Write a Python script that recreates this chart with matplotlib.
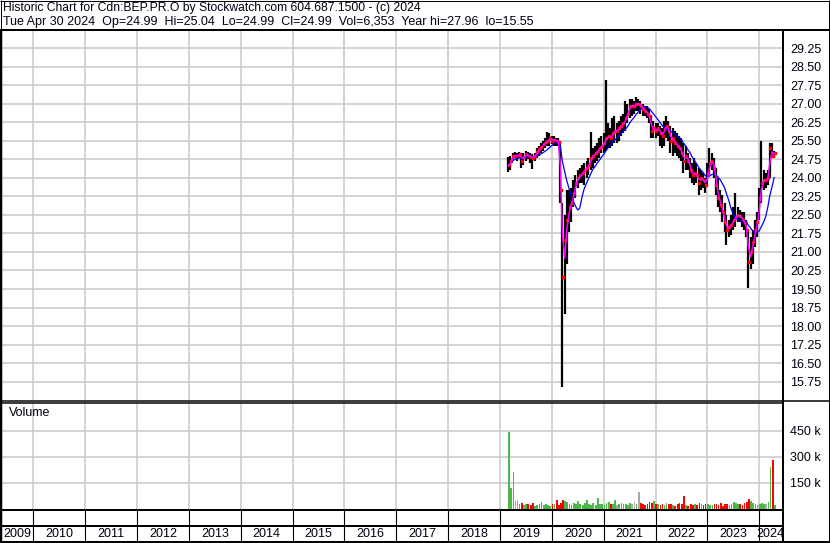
import numpy as np
import pandas as pd
import matplotlib
matplotlib.use('Agg')
import matplotlib.pyplot as plt
from matplotlib.lines import Line2D

plt.rcParams['font.family'] = ['Liberation Sans', 'DejaVu Sans']

W, H = 830, 543

# semi-monthly bars, Mar 2019 - Apr 2024
dates = pd.date_range('2019-03-01', '2024-04-30', freq='SMS')

high = [24.85, 24.9, 25.0, 25.05, 25.0, 25.05, 25.0, 25.0, 25.1, 25.05,
        25.0, 24.95, 25.0, 25.2, 25.3, 25.4, 25.5, 25.6, 25.85, 25.8,
        25.7, 25.7, 25.6, 25.6, 25.5, 23.0, 22.5, 23.5, 23.5, 23.6,
        23.9, 24.1, 24.3, 24.4, 24.5, 24.6, 24.7, 24.8, 25.85, 25.2,
        25.3, 25.4, 25.6, 25.7, 25.8, 27.96, 26.2, 26.0, 26.4, 26.5,
        26.2, 26.3, 26.5, 26.6, 27.1, 27.0, 27.2, 27.2, 27.1, 27.25,
        27.2, 27.1, 27.0, 26.9, 26.9, 26.8, 26.5, 26.3, 26.2, 26.2,
        26.1, 26.0, 26.3, 26.5, 26.3, 26.1, 26.0, 25.9, 25.8, 25.7,
        25.6, 25.4, 25.3, 25.0, 24.8, 24.6, 24.8, 24.6, 24.4, 24.3,
        24.2, 24.0, 24.6, 25.2, 25.0, 24.8, 24.4, 24.0, 23.5, 23.3,
        23.0, 22.5, 22.3, 22.5, 22.8, 23.4, 22.8, 22.7, 22.6, 22.6,
        22.3, 21.9, 21.6, 21.9, 22.3, 22.6, 23.6, 25.5, 24.3, 24.2,
        24.3, 25.4, 25.4, 25.1]
low = [24.25, 24.3, 24.7, 24.8, 24.7, 24.8, 24.4, 24.5, 24.7, 24.75,
       24.6, 24.35, 24.7, 24.8, 24.9, 25.0, 25.1, 25.2, 25.3, 25.3,
       25.35, 25.3, 25.3, 25.3, 23.0, 15.55, 18.5, 20.5, 21.8, 22.2,
       22.8, 23.2, 23.6, 23.8, 23.8, 23.7, 24.0, 24.1, 24.3, 24.4,
       24.6, 24.7, 24.8, 25.0, 25.0, 25.1, 25.2, 25.2, 25.3, 25.4,
       25.4, 25.5, 25.7, 25.8, 25.9, 26.2, 26.4, 26.5, 26.6, 26.7,
       26.7, 26.6, 26.5, 26.5, 26.4, 26.2, 25.6, 25.6, 25.6, 25.7,
       25.3, 25.2, 25.3, 25.6, 25.5, 25.0, 24.9, 25.0, 24.9, 24.8,
       24.7, 24.2, 24.3, 24.3, 24.0, 23.8, 23.7, 23.8, 23.3, 23.5,
       23.6, 23.4, 23.7, 24.1, 24.3, 24.0, 23.3, 22.8, 22.6, 22.2,
       21.8, 21.3, 21.6, 21.7, 21.9, 22.0, 22.2, 22.2, 22.0, 21.9,
       21.6, 19.55, 20.3, 20.5, 21.2, 21.6, 22.3, 23.0, 23.5, 23.6,
       23.7, 24.0, 24.8, 24.8]
close = [24.5, 24.7, 24.9, 24.9, 24.9, 24.95, 24.7, 24.85, 24.95, 24.9,
         24.85, 24.8, 24.9, 25.05, 25.15, 25.25, 25.35, 25.45, 25.5, 25.6,
         25.5, 25.55, 25.5, 25.45, 23.5, 20.0, 21.5, 22.3, 22.8, 23.0,
         23.4, 23.8, 24.0, 24.1, 24.2, 24.3, 24.4, 24.5, 24.8, 24.9,
         25.0, 25.1, 25.2, 25.3, 25.4, 25.6, 25.7, 25.6, 25.8, 25.9,
         25.9, 26.0, 26.1, 26.2, 26.4, 26.6, 26.9, 26.9, 26.9, 27.0,
         27.0, 26.9, 26.8, 26.7, 26.6, 26.5, 25.9, 26.0, 25.9, 26.0,
         25.8, 25.7, 26.0, 26.1, 25.9, 25.5, 25.6, 25.4, 25.3, 25.2,
         25.0, 24.7, 24.9, 24.7, 24.3, 24.1, 24.2, 24.1, 23.8, 24.0,
         23.9, 23.7, 24.2, 24.6, 24.7, 24.4, 23.7, 23.2, 22.9, 22.6,
         22.2, 21.9, 22.0, 22.1, 22.3, 22.4, 22.5, 22.45, 22.3, 22.2,
         21.9, 20.6, 21.0, 21.4, 21.9, 22.2, 23.2, 23.8, 23.9, 23.9,
         24.0, 25.2, 24.9, 25.0]
volume_k = [446, 120, 215, 45, 52, 30, 35, 25, 30, 28,
            22, 35, 20, 25, 30, 38, 22, 30, 25, 20,
            30, 28, 52, 25, 35, 52, 48, 40, 30, 25,
            35, 28, 46, 30, 25, 35, 52, 30, 25, 35,
            22, 65, 28, 30, 25, 35, 40, 28, 30, 52,
            25, 30, 35, 28, 30, 25, 35, 28, 40, 30,
            100, 35, 28, 25, 30, 40, 35, 45, 30, 28,
            25, 30, 22, 35, 28, 30, 25, 20, 30, 35,
            28, 75, 25, 20, 30, 22, 28, 25, 35, 30,
            22, 28, 30, 25, 22, 28, 30, 25, 35, 20,
            28, 30, 25, 30, 40, 35, 28, 30, 25, 35,
            40, 58, 45, 35, 30, 25, 30, 35, 28, 30,
            40, 245, 285, 25]

years = list(range(2009, 2025))
price_ticks = [15.75, 16.50, 17.25, 18.00, 18.75, 19.50, 20.25, 21.00, 21.75, 22.50,
               23.25, 24.00, 24.75, 25.50, 26.25, 27.00, 27.75, 28.50, 29.25]
vol_ticks = [150, 300, 450]

df = pd.DataFrame({'high': high, 'low': low, 'close': close, 'vol': volume_k}, index=dates)
ma_short = df['close'].rolling(2, min_periods=1).mean()
ma_long = df['close'].rolling(9, min_periods=1).mean()
chg = df['close'].diff().fillna(1)
vol_colors = np.where(chg > 0, '#4cb84c', np.where(chg < 0, '#ff0000', '#a8a8a8'))

x_left = pd.Timestamp('2009-05-25')
x_right = pd.Timestamp('2024-06-09')
grid_c = '#c8c8c8'
txt_c = '#000010'


def box(x0, y0, x1, y1):
    # pixel box -> figure fraction rect
    return [x0 / W, 1 - y1 / H, (x1 - x0) / W, (y1 - y0) / H]


def fig_line(x0, y0, x1, y1, lw=1.0, color='black'):
    fig.add_artist(Line2D([x0 / W, x1 / W], [1 - y0 / H, 1 - y1 / H], color=color,
                          lw=lw * 0.72, transform=fig.transFigure, solid_capstyle='butt'))


fig = plt.figure(figsize=(W / 100, H / 100), dpi=100)

year_starts = [pd.Timestamp(f'{y}-01-01') for y in years[1:]]

# price panel
ax = fig.add_axes(box(2, 31, 782, 400))
ax.set_xlim(x_left, x_right)
ax.set_ylim(15.01, 29.94)
for t in price_ticks:
    ax.axhline(t, color=grid_c, lw=1.1, zorder=0)
for d in year_starts:
    ax.axvline(d, color=grid_c, lw=1.1, zorder=0)
ax.vlines(df.index, df['low'], df['high'], color='black', lw=1.6, zorder=2)
ax.plot(df.index + pd.Timedelta(days=4), df['close'], ls='none', marker='s', ms=1.5,
        mec='red', mfc='red', zorder=3)
ax.plot(df.index, ma_long, color='#0000ff', lw=0.9, zorder=4)
ax.plot(df.index, ma_short, color='#ff00ff', lw=1.1, zorder=5)
ax.set_yticks(price_ticks)
ax.set_yticklabels([f'{t:.2f}' for t in price_ticks])
ax.yaxis.tick_right()
ax.tick_params(axis='y', length=0, pad=6, labelsize=9, labelcolor=txt_c)
ax.set_xticks([])
for s in ax.spines.values():
    s.set_visible(False)
ax.text(8, 41, 'Cdn:BEP.PR.O', transform=None, fontsize=9, color=txt_c, va='center')

# volume panel
axv = fig.add_axes(box(2, 402, 782, 509))
axv.set_xlim(x_left, x_right)
axv.set_ylim(0, 617)
for t in vol_ticks:
    axv.axhline(t, color=grid_c, lw=1.1, zorder=0)
for d in year_starts:
    axv.axvline(d, color=grid_c, lw=1.1, zorder=0)
axv.bar(df.index + pd.Timedelta(days=4), df['vol'], width=12, color=vol_colors, zorder=2)
axv.set_yticks(vol_ticks)
axv.set_yticklabels([f'{t} k' for t in vol_ticks])
axv.yaxis.tick_right()
axv.tick_params(axis='y', length=0, pad=6, labelsize=9, labelcolor=txt_c)
axv.set_xticks([])
for s in axv.spines.values():
    s.set_visible(False)

# year strip
axy = fig.add_axes(box(2, 509, 782, 541))
axy.set_xlim(x_left, x_right)
axy.set_ylim(0, 1)
axy.axis('off')
for d in year_starts:
    axy.axvline(d, color='black', lw=0.8)
edges = [x_left] + year_starts + [x_right]
for y, a, b in zip(years, edges[:-1], edges[1:]):
    axy.text(a + (b - a) / 2, 0.22, str(y), ha='center', va='center', fontsize=9, color=txt_c)

# header
fig.text(3 / W, 1 - 8 / H, 'Historic Chart for Cdn:BEP.PR.O by Stockwatch.com 604.687.1500 - (c) 2024',
         fontsize=8.7, color=txt_c, va='center')
fig.text(3 / W, 1 - 22 / H,
         'Tue Apr 30 2024  Op=24.99  Hi=25.04  Lo=24.99  Cl=24.99  Vol=6,353  Year hi=27.96  lo=15.55',
         fontsize=9, color=txt_c, va='center')
fig.text(9 / W, 1 - 413 / H, 'Volume', fontsize=9, color=txt_c, va='center')

# frame lines
fig_line(0, 0.5, W, 0.5)
fig_line(W - 1, 0, W - 1, H)
fig_line(0.5, 0, 0.5, H)
fig_line(0, 30, W, 30, lw=2)
fig_line(1, 30, 1, H, lw=2.5)
fig_line(782.5, 30, 782.5, H, lw=2)
fig_line(0, 400.5, W, 400.5, lw=1.5)
fig_line(0, 403, 782, 403, lw=1.5)
fig_line(0, 509.5, 782, 509.5, lw=2)
fig_line(0, 526, 782, 526, lw=2)
fig_line(0, 541.5, W, 541.5, lw=2)

fig.savefig('out.png', dpi=100)
